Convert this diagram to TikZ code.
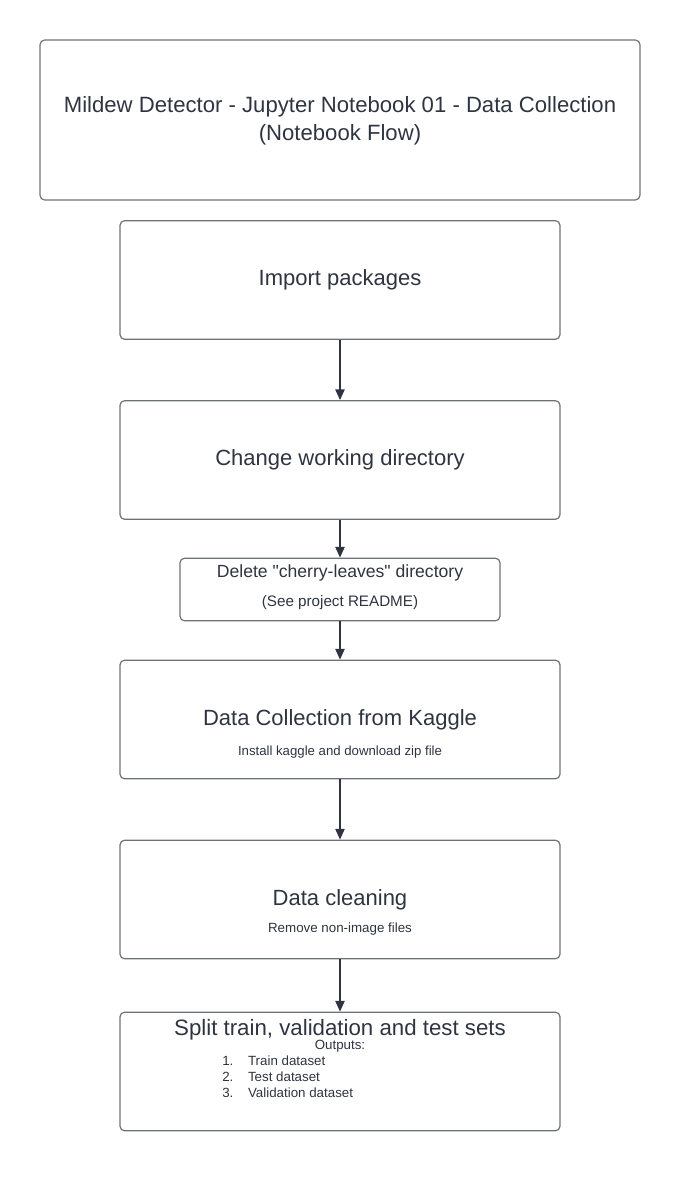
\documentclass[tikz,border=0pt]{standalone}
\usepackage{fontspec}
\setmainfont{Liberation Sans}
\usetikzlibrary{arrows.meta}

\definecolor{boxline}{HTML}{6E7176}
\definecolor{inktext}{HTML}{2E3440}

\tikzset{
  stepbox/.style={draw=boxline, line width=0.9pt, rounded corners=3.5pt,
    minimum width=330pt, minimum height=89pt, inner sep=0pt},
  flow/.style={draw=inktext, line width=0.9pt, -{Triangle[length=8pt,width=7pt]}},
  lbl/.style={text=inktext, align=center, inner sep=0pt}
}

\begin{document}
\begin{tikzpicture}[x=0.75pt, y=-0.75pt]
    \useasboundingbox (0,0) rectangle (680,1183);
    % boxes
    \node[stepbox, minimum width=450pt, minimum height=120pt] (title) at (340,120) {};
    \node[stepbox] (import) at (340,280) {};
    \node[stepbox] (chdir) at (340,460) {};
    \node[stepbox, minimum width=240pt, minimum height=47pt] (delete) at (340,589.5) {};
    \node[stepbox] (collect) at (340,719.5) {};
    \node[stepbox] (clean) at (340,899.5) {};
    \node[stepbox] (split) at (340,1071.5) {};
    % texts
    \node[lbl, font=\fontsize{16.6}{21}\selectfont] (titletxt) at (340,121)
        {Mildew Detector - Jupyter Notebook 01 - Data Collection\\(Notebook Flow)};
    \node[lbl, font=\fontsize{16.5}{20}\selectfont] (importtxt) at (340,280) {Import packages};
    \node[lbl, font=\fontsize{16.5}{20}\selectfont] (chdirtxt) at (340,460) {Change working directory};
    \node[lbl, font=\fontsize{13.2}{16}\selectfont] (deletetxt) at (340,573) {Delete \textquotedbl cherry-leaves\textquotedbl\ directory};
    \node[lbl, font=\fontsize{11.4}{13}\selectfont] (deletesub) at (340,603) {(See project README)};
    \node[lbl, font=\fontsize{16.5}{20}\selectfont] (collecttxt) at (340,720) {Data Collection from Kaggle};
    \node[lbl, font=\fontsize{9.9}{12}\selectfont] (collectsub) at (340,752) {Install kaggle and download zip file};
    \node[lbl, font=\fontsize{16.5}{20}\selectfont] (cleantxt) at (340,900) {Data cleaning};
    \node[lbl, font=\fontsize{10}{12}\selectfont] (cleansub) at (340,929) {Remove non-image files};
    \node[lbl, font=\fontsize{16.7}{20}\selectfont] (splittxt) at (340,1030) {Split train, validation and test sets};
    \node[lbl, font=\fontsize{10}{12}\selectfont] (outputs) at (340,1046) {Outputs:};
    \node[lbl, anchor=north west, font=\fontsize{10}{12}\selectfont] (outlist) at (222,1054)
        {\begin{tabular}{@{}r@{\hspace{11pt}}l@{}}
         1. & Train dataset\\
         2. & Test dataset\\
         3. & Validation dataset
         \end{tabular}};
    % arrows
    \draw[flow] (import) -- (chdir);
    \draw[flow] (chdir) -- (delete);
    \draw[flow] (delete) -- (collect);
    \draw[flow] (collect) -- (clean);
    \draw[flow] (clean) -- (split);
\end{tikzpicture}
\end{document}
